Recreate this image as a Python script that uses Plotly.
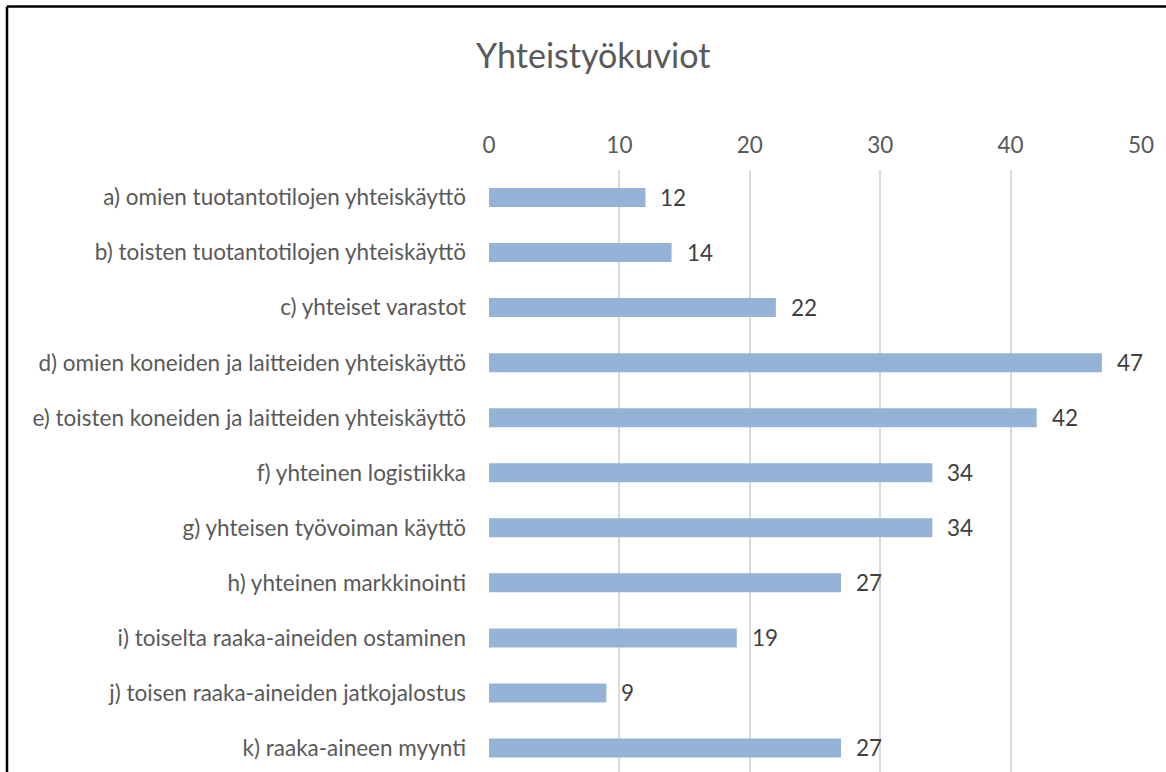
import plotly.graph_objects as go

categories = [
    "a) omien tuotantotilojen yhteiskäyttö",
    "b) toisten tuotantotilojen yhteiskäyttö",
    "c) yhteiset varastot",
    "d) omien koneiden ja laitteiden yhteiskäyttö",
    "e) toisten koneiden ja laitteiden yhteiskäyttö",
    "f) yhteinen logistiikka",
    "g) yhteisen työvoiman käyttö",
    "h) yhteinen markkinointi",
    "i) toiselta raaka-aineiden ostaminen",
    "j) toisen raaka-aineiden jatkojalostus",
    "k) raaka-aineen myynti",
]
values = [12, 14, 22, 47, 42, 34, 34, 27, 19, 9, 27]
x_ticks = [0, 10, 20, 30, 40, 50]
title = "Yhteistyökuviot"

FONT = "Lato"
FS = 22.5
W, H = 1166, 772
L, R, T, B = 489, 25, 170, 0
pw = W - L - R
ph = H - T - B

fig = go.Figure()
fig.add_trace(go.Bar(
    x=values, y=categories, orientation="h",
    marker=dict(color="#95b3d7", line=dict(width=0)),
    width=0.345, showlegend=False,
))

for c, v in zip(categories, values):
    fig.add_annotation(x=v, y=c, text=str(v), showarrow=False,
                       xanchor="left", xshift=13, yshift=0,
                       font=dict(family=FONT, size=FS, color="#404040"))

fig.add_annotation(xref="paper", yref="paper", x=(593 - L) / pw,
                   y=1 + (T - 55) / ph, text=title, showarrow=False,
                   xanchor="center", yanchor="middle",
                   font=dict(family=FONT, size=34, color="#595959"))

# border (left and top)
fig.add_shape(type="line", xref="paper", yref="paper",
              x0=(7 - L) / pw, x1=(7 - L) / pw, y0=1 + (T - 6.5) / ph, y1=-0.01,
              line=dict(color="black", width=2.5))
fig.add_shape(type="line", xref="paper", yref="paper",
              x0=(7 - L) / pw, x1=(W + 5 - L) / pw, y0=1 + (T - 6.5) / ph, y1=1 + (T - 6.5) / ph,
              line=dict(color="black", width=2.5))

fig.update_layout(
    width=W, height=H,
    margin=dict(l=L, r=R, t=T, b=B, pad=0),
    paper_bgcolor="white", plot_bgcolor="white",
    font=dict(family=FONT, size=FS, color="#595959"),
)
fig.update_xaxes(range=[0, 50], side="top", tickvals=x_ticks,
                 showgrid=True, gridcolor="#d9d9d9", gridwidth=1.5,
                 zeroline=False, showline=False, ticks="",
                 ticklabelstandoff=12,
                 tickfont=dict(family=FONT, size=FS, color="#595959"))
fig.update_yaxes(type="category", categoryorder="array", categoryarray=categories,
                 range=[(H - 198) / 55.0, -0.5], showgrid=False, zeroline=False,
                 showline=False, ticks="", ticklabelstandoff=22,
                 tickfont=dict(family=FONT, size=FS, color="#595959"))

fig.write_html("out.html", config={"displayModeBar": False},
               post_script="document.body.style.margin='0';document.body.style.padding='0';")
